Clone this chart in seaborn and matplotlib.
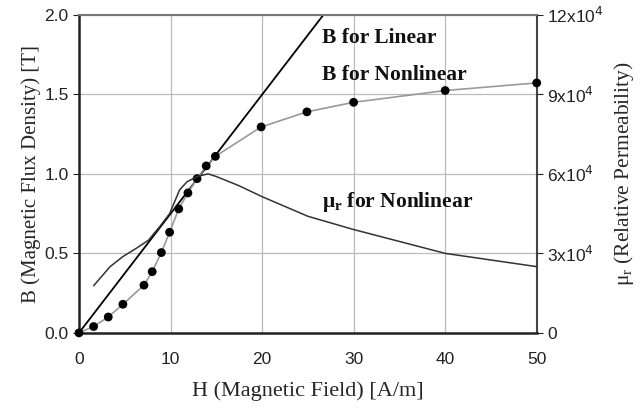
import numpy as np
import matplotlib
matplotlib.use("Agg")
import matplotlib.pyplot as plt
import pandas as pd
import seaborn as sns

# datos
h_nonlin = [0, 1.6, 3.2, 4.8, 7.1, 8.0, 9.0, 9.9, 10.9, 11.9, 12.9, 13.9, 14.9, 19.9, 24.9, 30.0, 40.0, 50.0]
b_nonlin = [0.0, 0.04, 0.10, 0.18, 0.30, 0.385, 0.505, 0.633, 0.78, 0.88, 0.97, 1.05, 1.11, 1.295, 1.39, 1.45, 1.524, 1.572]

h_lin = [0, 26.7]
b_lin = [0.0, 2.0]

h_mu = [1.6, 3.4, 4.8, 6.3, 7.6, 8.8, 9.9, 11.0, 11.8, 12.9, 14.1, 15.0, 17.5, 20.0, 25.0, 30.0, 40.0, 50.0]
mu_r = [1.78e4, 2.5e4, 2.88e4, 3.2e4, 3.5e4, 4.0e4, 4.5e4, 5.4e4, 5.7e4, 5.9e4, 6.0e4, 5.9e4, 5.55e4, 5.14e4, 4.4e4, 3.9e4, 3.0e4, 2.5e4]

x_ticks = [0, 10, 20, 30, 40, 50]
b_ticks = [0.0, 0.5, 1.0, 1.5, 2.0]
mu_ticks = [0, 3e4, 6e4, 9e4, 12e4]
mu_labels = ["0", "3x10$^4$", "6x10$^4$", "9x10$^4$", "12x10$^4$"]

sns.set_style("white")
plt.rcParams["font.family"] = ["Liberation Sans", "DejaVu Sans"]

df_nl = pd.DataFrame({"H": h_nonlin, "B": b_nonlin})
df_lin = pd.DataFrame({"H": h_lin, "B": b_lin})
df_mu = pd.DataFrame({"H": h_mu, "mu": mu_r})

fig = plt.figure(figsize=(6.42, 4.12), dpi=100)
ax = fig.add_axes([0.123, 0.192, 0.713, 0.772])

sns.lineplot(data=df_lin, x="H", y="B", ax=ax, color="black", lw=1.3)
sns.lineplot(data=df_nl, x="H", y="B", ax=ax, color="#999999", lw=1.2)
sns.scatterplot(data=df_nl, x="H", y="B", ax=ax, color="black", s=40, edgecolor="none", zorder=5, clip_on=False)

ax.set_xlim(0, 50)
ax.set_ylim(0, 2.0)
ax.set_xticks(x_ticks)
ax.set_yticks(b_ticks)
ax.set_yticklabels([f"{v:.1f}" for v in b_ticks])
ax.grid(True, color="#bbbbbb", lw=0.9)
ax.tick_params(axis="both", labelsize=12.5, colors="#222222")
ax.tick_params(axis="y", length=4, direction="out", left=True)
ax.tick_params(axis="x", length=0, pad=14)
ax.set_xlabel("H (Magnetic Field) [A/m]", family="Liberation Serif", fontsize=16, labelpad=10)
ax.set_ylabel("B (Magnetic Flux Density) [T]", family="Liberation Serif", fontsize=15, labelpad=2)

for side in ["left", "bottom"]:
    ax.spines[side].set_color("#222222")
    ax.spines[side].set_linewidth(1.8)
ax.spines["top"].set_color("#777777")
ax.spines["top"].set_linewidth(1.5)
ax.spines["right"].set_color("#444444")
ax.spines["right"].set_linewidth(1.5)

ax2 = ax.twinx()
sns.lineplot(data=df_mu, x="H", y="mu", ax=ax2, color="#333333", lw=1.1)
ax2.set_ylim(0, 12e4)
ax2.set_yticks(mu_ticks)
ax2.set_yticklabels(mu_labels)
ax2.tick_params(axis="y", labelsize=12.5, colors="#222222", length=4, direction="out", right=True)
ax2.set_ylabel(r"$\mathregular{\mu_r}$ (Relative Permeability)", family="Liberation Serif", fontsize=15.5, labelpad=6)
for sp in ax2.spines.values():
    sp.set_visible(False)

txt = dict(family="Liberation Serif", fontweight="bold", fontsize=15.5, color="#111111")
ax.text(26.6, 1.855, "B for Linear", va="center", **txt)
ax.text(26.6, 1.62, "B for Nonlinear", va="center", **txt)
ax.text(26.6, 0.82, r"$\mathregular{\mu_r}$ for Nonlinear", va="center", **txt)

fig.savefig("out.png", dpi=100)
